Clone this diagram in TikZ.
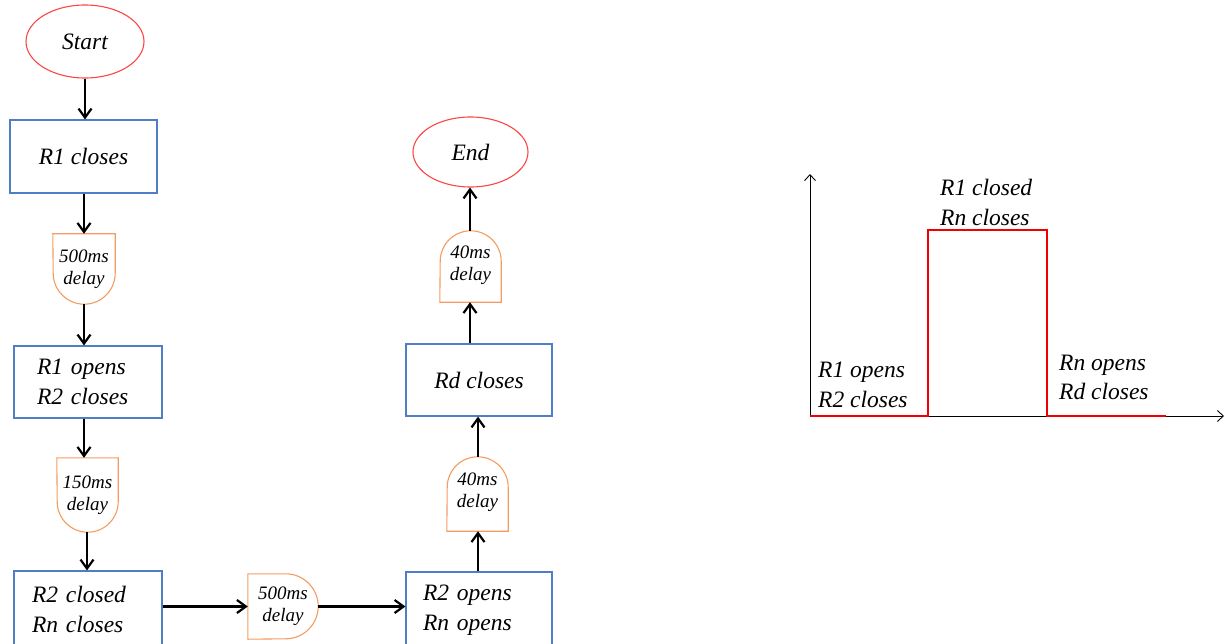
\documentclass[tikz,border=0pt]{standalone}
\usepackage{fontspec}
\setmainfont{Liberation Serif}
\usetikzlibrary{arrows.meta,shapes.geometric,calc}
\definecolor{termred}{RGB}{250,70,70}
\definecolor{boxblue}{RGB}{80,125,200}
\definecolor{delayorange}{RGB}{244,155,95}
\definecolor{pulsered}{RGB}{240,0,0}
\tikzset{
  x=1pt, y=-1pt,
  bigtxt/.style={font=\fontsize{23.5}{30}\selectfont\itshape},
  terminal/.style={ellipse, draw=termred, line width=1.1pt, inner sep=0pt, bigtxt},
  stepbox/.style={rectangle, draw=boxblue, line width=1.1pt, inner sep=0pt, bigtxt},
  delaybox/.style={rectangle, inner sep=0pt, align=center, font=\fontsize{19}{22}\selectfont\itshape},
  delayline/.style={draw=delayorange, line width=1.1pt},
  conn/.style={line width=2.2pt, -{Straight Barb[length=9pt,width=13pt]}},
  axisline/.style={line width=0.9pt, -{Straight Barb[length=6pt,width=11pt]}},
  pulse/.style={draw=pulsered, line width=2pt},
  lbl/.style={bigtxt, inner sep=0pt, anchor=base west},
}
\begin{document}
\begin{tikzpicture}
\useasboundingbox (0,0) rectangle (1225,644);
\clip (0,0) rectangle (1225,644);

% flow chart nodes
\node[terminal, minimum width=118pt, minimum height=73pt] (start) at (85,41.5) {Start};
\node[stepbox, minimum width=147pt, minimum height=73pt] (r1) at (83.5,156.5) {R1 closes};
\node[delaybox, minimum width=62pt, minimum height=70pt] (d1) at (84,269) {500ms\\delay};
\node[stepbox, minimum height=72pt, inner xsep=23pt, text width=102pt, align=left] (r1o) at (88,382) {R1 opens\\R2 closes};
\node[delaybox, minimum width=61pt, minimum height=74pt] (d2) at (87.5,495) {150ms\\delay};
\node[stepbox, minimum height=76pt, inner xsep=18pt, text width=112pt, align=left] (r2c) at (88,609) {R2 closed\\Rn closes};
\node[delaybox, minimum width=70pt, minimum height=65pt] (d3) at (283,606.5) {500ms\\delay};
\node[stepbox, minimum height=76pt, inner xsep=17pt, text width=112pt, align=left] (r2o) at (479,610) {R2 opens\\Rn opens};
\node[delaybox, minimum width=61pt, minimum height=74pt] (d4) at (477.5,494) {\\[-12pt]40ms\\delay};
\node[stepbox, minimum width=146pt, minimum height=72pt] (rd) at (479,380) {Rd closes};
\node[delaybox, minimum width=61pt, minimum height=71pt] (d5) at (470.5,266.5) {\\[-12pt]40ms\\delay};
\node[terminal, minimum width=115pt, minimum height=70pt] (end) at (470.5,152) {End};

% delay outlines: flat on one side, round on the other
\draw[delayline] (d1.north west) -- (d1.north east) -- ([yshift=31pt]d1.south east)
  arc[start angle=0, end angle=-180, radius=31pt] -- cycle;
\draw[delayline] (d2.north west) -- (d2.north east) -- ([yshift=30.5pt]d2.south east)
  arc[start angle=0, end angle=-180, radius=30.5pt] -- cycle;
\draw[delayline] (d3.south west) -- (d3.north west) -- ([xshift=-32.5pt]d3.north east)
  arc[start angle=90, end angle=-90, radius=32.5pt] -- cycle;
\draw[delayline] (d4.south west) -- (d4.south east) -- ([yshift=-30.5pt]d4.north east)
  arc[start angle=0, end angle=180, radius=30.5pt] -- cycle;
\draw[delayline] (d5.south west) -- (d5.south east) -- ([yshift=-30.5pt]d5.north east)
  arc[start angle=0, end angle=180, radius=30.5pt] -- cycle;

% connectors
\draw[conn] (start.south) -- (start.south |- r1.north);
\draw[conn] (d1.north |- r1.south) -- (d1.north);
\draw[conn] (d1.south) -- (d1.south |- r1o.north);
\draw[conn] ([xshift=-4pt]r1o.south) -- ([xshift=-3.5pt]d2.north);
\draw[conn] ([xshift=-0.5pt]d2.south) -- ([xshift=-0.5pt]d2.south |- r2c.north);
\draw[conn] (d3.west -| r2c.east) -- (d3.west);
\draw[conn] (d3.east) -- (d3.east -| r2o.west);
\draw[conn] ([xshift=0.5pt]d4.south |- r2o.north) -- ([xshift=0.5pt]d4.south);
\draw[conn] ([xshift=0.5pt]d4.north) -- ([xshift=0.5pt]d4.north |- rd.south);
\draw[conn] ([xshift=-0.5pt]d5.south |- rd.north) -- ([xshift=-0.5pt]d5.south);
\draw[conn] ([xshift=-0.5pt]d5.north) -- ([xshift=-0.5pt]d5.north |- end.south);

% timing plot
\coordinate (O) at (810,416);
\coordinate (ytop) at (810,174);
\coordinate (xend) at (1224,416);
\coordinate (up) at (928,230);
\coordinate (down) at (1047,230);
\coordinate (tail) at (1166,416);
\draw[axisline] (O) -- (ytop);
\draw[axisline] (O) -- (xend);
\draw[pulse] (O) -- (O -| up) -- (up) -- (down) -- (down |- O) -- (tail);

\node[lbl] (hi1) at (940,196) {R1 closed};
\node[lbl] (hi2) at (940,226) {Rn closes};
\node[lbl] (lo1) at (818,377) {R1 opens};
\node[lbl] (lo2) at (818,407) {R2 closes};
\node[lbl] (ta1) at (1059,370) {Rn opens};
\node[lbl] (ta2) at (1059,399) {Rd closes};
\end{tikzpicture}
\end{document}
